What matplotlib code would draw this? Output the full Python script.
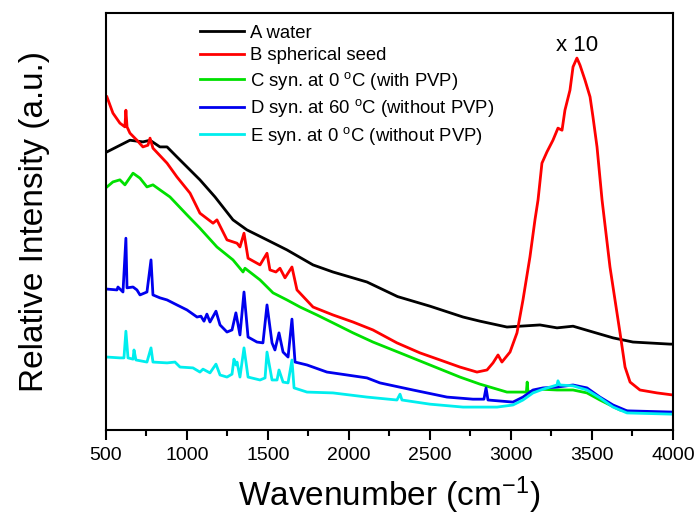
import matplotlib.pyplot as plt
from matplotlib.ticker import MultipleLocator

plt.rcParams['font.family'] = ['Liberation Sans', 'DejaVu Sans']
plt.rcParams['mathtext.fontset'] = 'custom'
plt.rcParams['mathtext.rm'] = 'Liberation Sans'
plt.rcParams['mathtext.it'] = 'Liberation Sans:italic'

# Spectra (wavenumber, relative intensity in arbitrary units)
a_x = [506, 648, 728, 772, 833, 877, 938, 1000, 1080, 1173, 1284, 1370, 1494,
       1617, 1778, 1901, 2111, 2300, 2500, 2704, 2809, 2975, 3179, 3284, 3383,
       3506, 3630, 3753, 3982, 4000]
a_y = [66.7, 69.5, 69.1, 69.5, 67.9, 67.9, 65.5, 63.1, 60.0, 55.9, 50.4, 48.0, 45.6,
       43.2, 39.6, 37.9, 35.5, 32.0, 29.7, 27.1, 26.1, 24.7, 25.2, 24.5, 24.9,
       23.5, 22.1, 21.1, 20.6, 20.6]

b_x = [506, 543, 586, 617, 623, 630, 648, 691, 728, 759, 772, 790, 877, 938, 1019,
       1080, 1161, 1185, 1247, 1309, 1327, 1352, 1377, 1451, 1494, 1512, 1549, 1574,
       1605, 1648, 1679, 1778, 1901, 2025, 2148, 2296, 2438, 2562, 2685, 2790, 2852,
       2889, 2920, 2944, 2994, 3037, 3074, 3117, 3148, 3167, 3191, 3222, 3259, 3290,
       3315, 3333, 3364, 3383, 3407, 3426, 3457, 3488, 3506, 3531, 3562, 3611, 3673,
       3704, 3735, 3796, 3901, 4000]
b_y = [79.9, 76.0, 73.6, 72.7, 76.7, 72.7, 71.2, 69.5, 67.9, 68.3, 70.0, 67.6, 64.0,
       60.7, 56.8, 52.0, 49.6, 50.4, 45.6, 44.8, 43.9, 47.2, 41.2, 39.6, 42.4, 38.4,
       37.9, 38.8, 36.5, 39.1, 33.6, 29.5, 27.6, 25.9, 24.0, 20.9, 18.5, 16.8, 15.1,
       13.9, 14.4, 16.1, 18.0, 16.3, 18.7, 23.3, 31.2, 41.5, 50.4, 55.2, 64.0, 66.7,
       69.5, 72.4, 71.9, 76.7, 81.5, 87.1, 89.2, 87.5, 83.9, 79.9, 75.1, 67.9, 55.2,
       39.1, 23.3, 15.1, 11.5, 9.6, 8.9, 8.4]

c_x = [506, 543, 586, 617, 667, 710, 753, 790, 833, 895, 1000, 1080, 1185, 1284,
       1346, 1358, 1451, 1531, 1617, 1698, 1802, 1901, 2025, 2148, 2315, 2500, 2685,
       2809, 2975, 3095, 3100, 3105, 3179, 3284, 3383, 3469, 3549, 3673, 3753, 4000]
c_y = [58.3, 59.5, 60.0, 58.8, 61.6, 60.4, 58.3, 58.8, 57.6, 55.9, 51.6, 48.4, 43.9,
       40.8, 37.9, 38.8, 36.0, 32.9, 31.2, 29.5, 27.6, 25.7, 23.3, 21.1, 18.5, 15.6,
       12.7, 11.0, 9.1, 9.1, 11.5, 9.1, 9.8, 9.6, 9.6, 8.9, 7.2, 4.8, 4.3, 4.1]

d_x = [506, 568, 574, 605, 623, 630, 667, 691, 710, 753, 778, 790, 833, 877, 938,
       1000, 1062, 1086, 1105, 1123, 1142, 1179, 1204, 1247, 1278, 1302, 1327, 1352,
       1377, 1432, 1469, 1494, 1525, 1543, 1568, 1593, 1624, 1648, 1667, 1741, 1864,
       1988, 2111, 2191, 2395, 2605, 2765, 2833, 2846, 2858, 3012, 3074, 3136, 3198,
       3284, 3383, 3469, 3549, 3630, 3716, 4000]
d_y = [33.8, 33.6, 34.3, 33.1, 46.0, 34.1, 34.3, 33.6, 32.4, 33.1, 40.8, 32.4, 31.7,
       31.2, 30.0, 28.8, 27.1, 27.3, 26.1, 27.8, 25.9, 28.5, 25.2, 23.5, 24.0, 28.1,
       22.8, 33.1, 22.3, 21.1, 20.9, 30.0, 20.9, 19.2, 23.3, 18.7, 17.5, 26.6, 16.3,
       15.6, 13.9, 13.2, 12.5, 11.3, 9.6, 7.9, 7.4, 7.4, 10.1, 7.2, 6.7, 7.9, 9.6,
       10.1, 10.3, 10.8, 10.1, 7.9, 6.0, 4.6, 4.3]

e_x = [506, 586, 611, 623, 636, 667, 673, 685, 753, 778, 790, 877, 926, 957, 1037,
       1080, 1099, 1142, 1179, 1204, 1247, 1278, 1290, 1302, 1309, 1327, 1352, 1377,
       1451, 1482, 1494, 1525, 1556, 1568, 1593, 1624, 1648, 1661, 1741, 1901, 2111,
       2296, 2315, 2327, 2500, 2704, 2914, 3012, 3074, 3136, 3198, 3284, 3290, 3302,
       3383, 3469, 3549, 3630, 3716, 4000]
e_y = [17.5, 17.3, 17.3, 23.7, 17.3, 17.0, 19.2, 16.8, 16.3, 19.7, 16.3, 16.1, 16.3,
       15.1, 14.9, 13.9, 14.6, 13.7, 15.8, 13.2, 12.7, 13.4, 17.0, 15.6, 16.3, 12.7,
       19.7, 12.7, 12.0, 12.5, 18.7, 12.0, 12.0, 14.4, 11.5, 11.3, 16.8, 10.1, 9.1,
       8.9, 7.9, 7.2, 8.6, 7.2, 6.2, 5.5, 5.5, 6.0, 7.2, 8.9, 9.8, 10.8, 11.8, 10.8,
       10.6, 9.6, 7.7, 5.5, 4.1, 3.8]

labels = ['A water', 'B spherical seed', 'C syn. at 0 $^{\\rm o}$C (with PVP)',
          'D syn. at 60 $^{\\rm o}$C (without PVP)', 'E syn. at 0 $^{\\rm o}$C (without PVP)']
colors = ['#000000', '#ff0000', '#00e000', '#0000ee', '#00eeee']

fig = plt.figure(figsize=(6.99, 5.22), dpi=100)
ax = fig.add_axes([0.1516, 0.1762, 0.8112, 0.7988])

series = [(a_x, a_y), (b_x, b_y), (c_x, c_y), (d_x, d_y), (e_x, e_y)]
for (xs, ys), lab, col in zip(series, labels, colors):
    ax.plot(xs, ys, color=col, lw=2.0, label=lab)

ax.text(3407, 92.3, 'x 10', fontsize=16, ha='center', va='center')

ax.set_xlim(500, 4000)
ax.set_ylim(0, 100)
ax.set_yticks([])
ax.xaxis.set_major_locator(MultipleLocator(500))
ax.xaxis.set_minor_locator(MultipleLocator(250))
ax.tick_params(axis='x', which='major', direction='out', length=7, width=1.5,
               labelsize=14, pad=5)
ax.tick_params(axis='x', which='minor', direction='out', length=4, width=1.5)
for s in ax.spines.values():
    s.set_linewidth(1.5)

ax.set_xlabel('Wavenumber (cm$^{-1}$)', fontsize=24, labelpad=8)
ax.set_ylabel('Relative Intensity (a.u.)', fontsize=24, labelpad=40)

ax.legend(loc='upper left', bbox_to_anchor=(0.166, 0.972), frameon=False,
          fontsize=13.3, handlelength=2.4, handletextpad=0.3, labelspacing=0.3,
          borderpad=0, borderaxespad=0)

plt.savefig('out.png', dpi=100)
